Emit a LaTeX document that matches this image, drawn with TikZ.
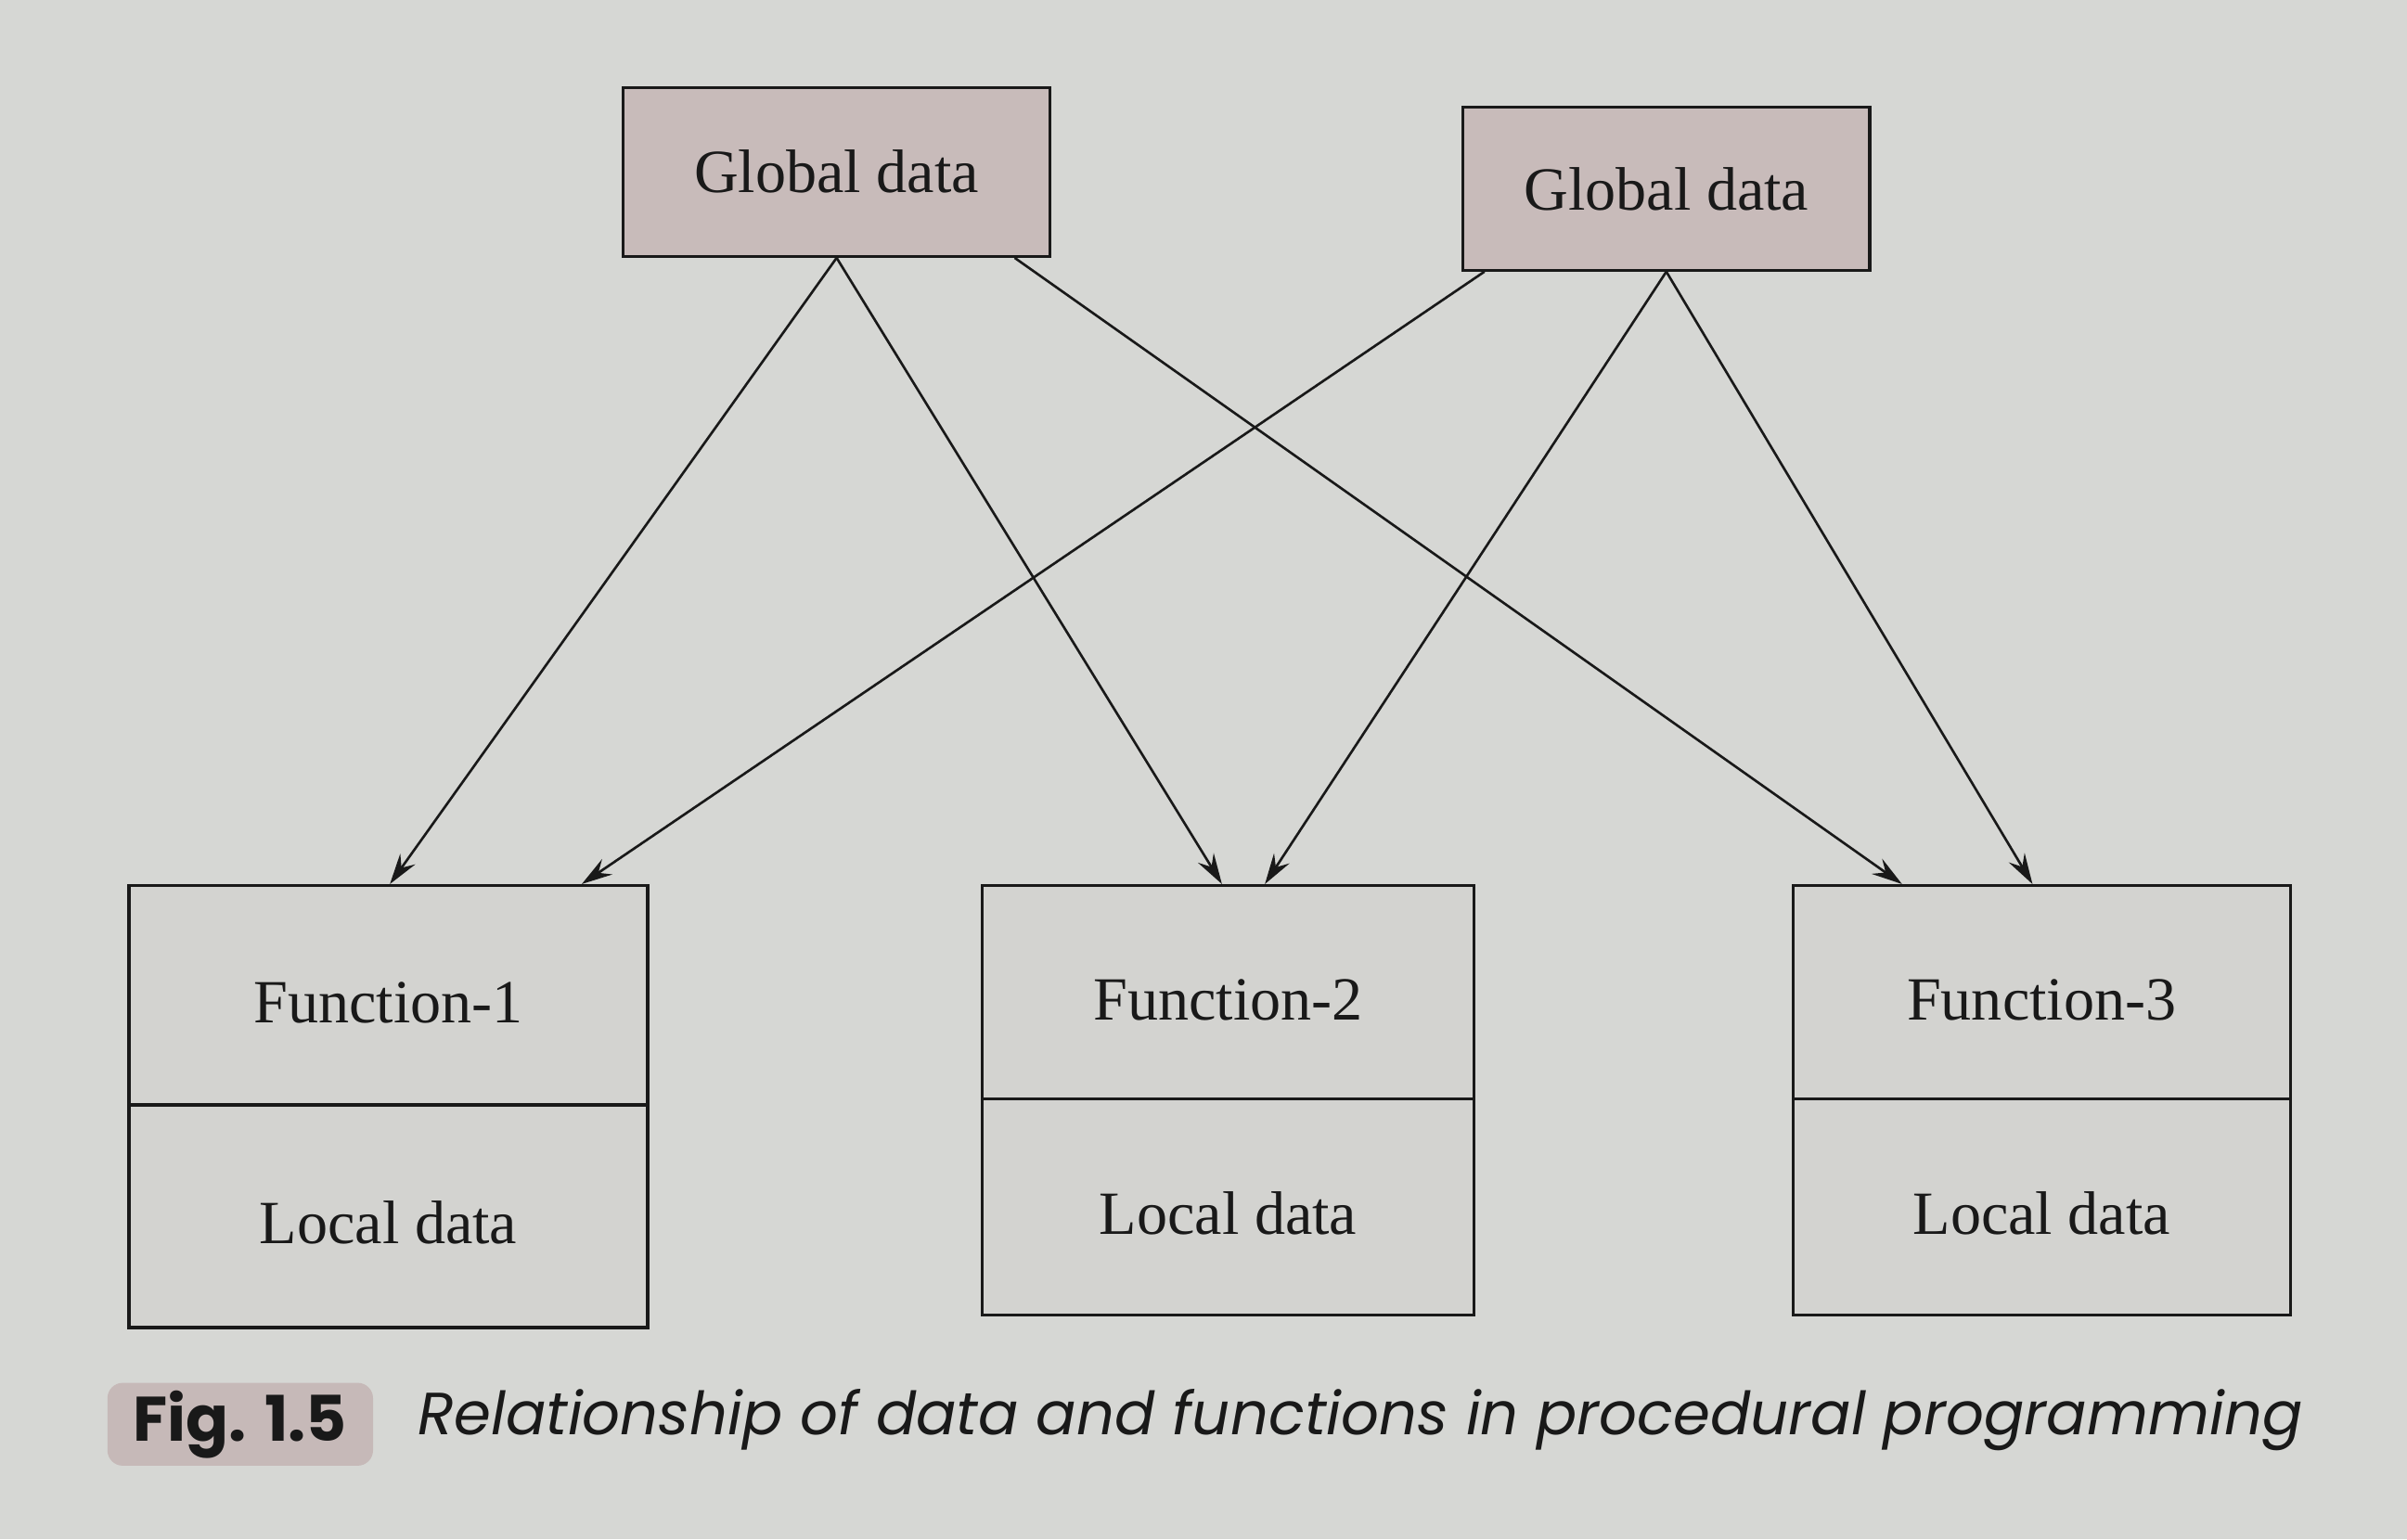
\documentclass[tikz,border=0pt]{standalone}
\usepackage{fontspec}
\setmainfont{Liberation Serif}
\newfontfamily\capfont{Poppins}
\usetikzlibrary{arrows.meta,positioning}
\definecolor{paper}{RGB}{214,215,212}
\definecolor{gfill}{RGB}{200,187,186}
\definecolor{ffill}{RGB}{211,211,208}
\definecolor{tagfill}{RGB}{198,185,184}
\definecolor{ink}{RGB}{25,25,25}
\tikzset{
  gbox/.style={draw=ink, line width=1pt, fill=gfill, inner sep=0pt, font=\fontsize{20}{24}\selectfont, text=ink},
  fbox/.style={draw=ink, line width=1pt, fill=ffill, inner sep=0pt, text height=18pt, text depth=0pt,
               font=\fontsize{20}{24}\selectfont, text=ink},
  link/.style={draw=ink, line width=0.8pt, -{Stealth[length=10pt,width=6pt,inset=3.5pt]}},
}
\begin{document}
\begin{tikzpicture}[x=0.5pt,y=-0.5pt]
\fill[paper] (0,0) rectangle (1568,1003);
\useasboundingbox (0,0) rectangle (1568,1003);
% global data boxes
\node[gbox, minimum width=139pt, minimum height=55pt] (g1) at (545,112) {Global data};
\node[gbox, minimum width=132.5pt, minimum height=53pt] (g2) at (1085.5,123) {Global data};
% function boxes
\node[fbox, minimum width=169pt, minimum height=71.5pt] (f1) at (253,648.5) {Function-1};
\node[fbox, minimum width=169pt, minimum height=72.5pt, below=-1pt of f1] (l1) {Local data};
\node[fbox, minimum width=160pt, minimum height=69.5pt] (f2) at (800,646.5) {Function-2};
\node[fbox, minimum width=160pt, minimum height=70.5pt, below=-1pt of f2] (l2) {Local data};
\node[fbox, minimum width=162pt, minimum height=69.5pt] (f3) at (1330,646.5) {Function-3};
\node[fbox, minimum width=162pt, minimum height=70.5pt, below=-1pt of f3] (l3) {Local data};
% connectors
\draw[link] (g1.south) -- ([xshift=85.5pt]f1.north west);
\draw[link] (g1.south) -- ([xshift=78.5pt]f2.north west);
\draw[link] ([xshift=128pt]g1.south west) -- ([xshift=36pt]f3.north west);
\draw[link] ([xshift=7.5pt]g2.south west) -- ([xshift=148pt]f1.north west);
\draw[link] (g2.south) -- ([xshift=92.5pt]f2.north west);
\draw[link] (g2.south) -- ([xshift=78.5pt]f3.north west);
% caption
\node[fill=tagfill, rounded corners=5pt, minimum width=86.5pt, minimum height=27pt, inner sep=0pt,
      font=\capfont\bfseries\fontsize{20.5}{24}\selectfont, text=ink] (tag) at (156.5,928) {Fig. 1.5};
\node[anchor=west, inner sep=0pt, font=\capfont\itshape\fontsize{19.4}{23}\selectfont, text=ink]
      (cap) at (272,925) {Relationship of data and functions in procedural programming};
\end{tikzpicture}
\end{document}
